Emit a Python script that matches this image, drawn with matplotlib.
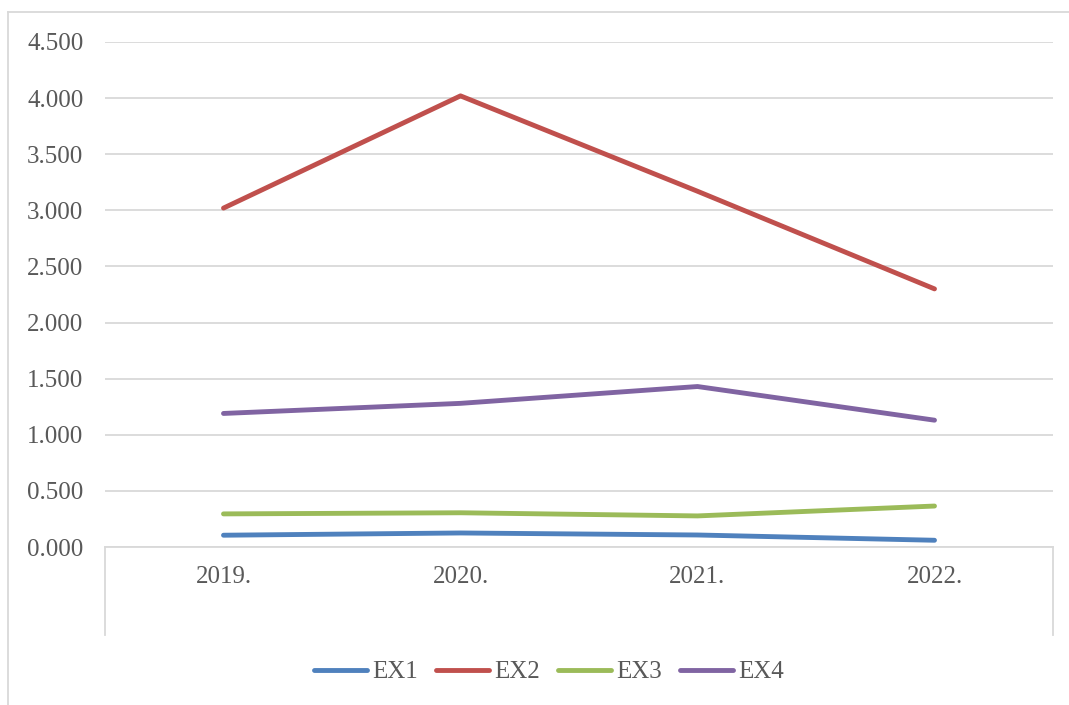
import numpy as np
import matplotlib.pyplot as plt
from matplotlib.lines import Line2D

years = ["2019.", "2020.", "2021.", "2022."]
ex1 = [0.105, 0.125, 0.107, 0.060]
ex2 = [3.02, 4.02, 3.17, 2.30]
ex3 = [0.295, 0.305, 0.277, 0.365]
ex4 = [1.19, 1.28, 1.43, 1.13]
series = [("EX1", ex1, "#4F81BD"), ("EX2", ex2, "#C0504D"),
          ("EX3", ex3, "#9BBB59"), ("EX4", ex4, "#8064A2")]
yticks = np.arange(0, 4.51, 0.5)

plt.rcParams['font.family'] = ['Liberation Serif', 'DejaVu Serif']
txt = "#595959"
grid = "#d9d9d9"

fig = plt.figure(figsize=(10.69, 7.05), dpi=100)
ax = fig.add_axes([105/1069, 1-547/705, 948/1069, 505/705])

x = np.arange(len(years))
for name, vals, col in series:
    ax.plot(x, vals, color=col, lw=3.5, solid_capstyle='round',
            solid_joinstyle='round', label=name)

ax.set_xlim(-0.5, len(years) - 0.5)
ax.set_ylim(0, 4.5)
ax.set_yticks(yticks)
ax.set_yticklabels([f"{v:.3f}" for v in yticks])
ax.set_xticks(x)
ax.set_xticklabels(years)
ax.tick_params(axis='both', length=0, labelsize=18, labelcolor=txt)
ax.tick_params(axis='y', pad=15.5)
ax.tick_params(axis='x', pad=14)
ax.grid(axis='y', color=grid, lw=1.3)
ax.set_axisbelow(True)
for s in ["top", "right", "left"]:
    ax.spines[s].set_visible(False)
ax.spines["bottom"].set_color(grid)
ax.spines["bottom"].set_linewidth(1.3)

# category axis box edges below the zero line
drop = 88 / 505 * 4.5
for xe in (-0.5, len(years) - 0.5):
    ax.plot([xe, xe], [0, -drop], color=grid, lw=1.3, clip_on=False)

# outer chart border (left and top)
fig.add_artist(Line2D([8/1069, 8/1069], [0, 1-12/705], color=grid, lw=1.3))
fig.add_artist(Line2D([8/1069, 1], [1-12/705, 1-12/705], color=grid, lw=1.3))

leg = fig.legend(loc='center', bbox_to_anchor=(549/1069, 1-672/705), ncol=4,
                 frameon=False, fontsize=18, handlelength=2.1,
                 handletextpad=0.2, columnspacing=0.75)
for t in leg.get_texts():
    t.set_color(txt)
for h in leg.get_lines():
    h.set_solid_capstyle('round')

fig.savefig("out.png", dpi=100)
